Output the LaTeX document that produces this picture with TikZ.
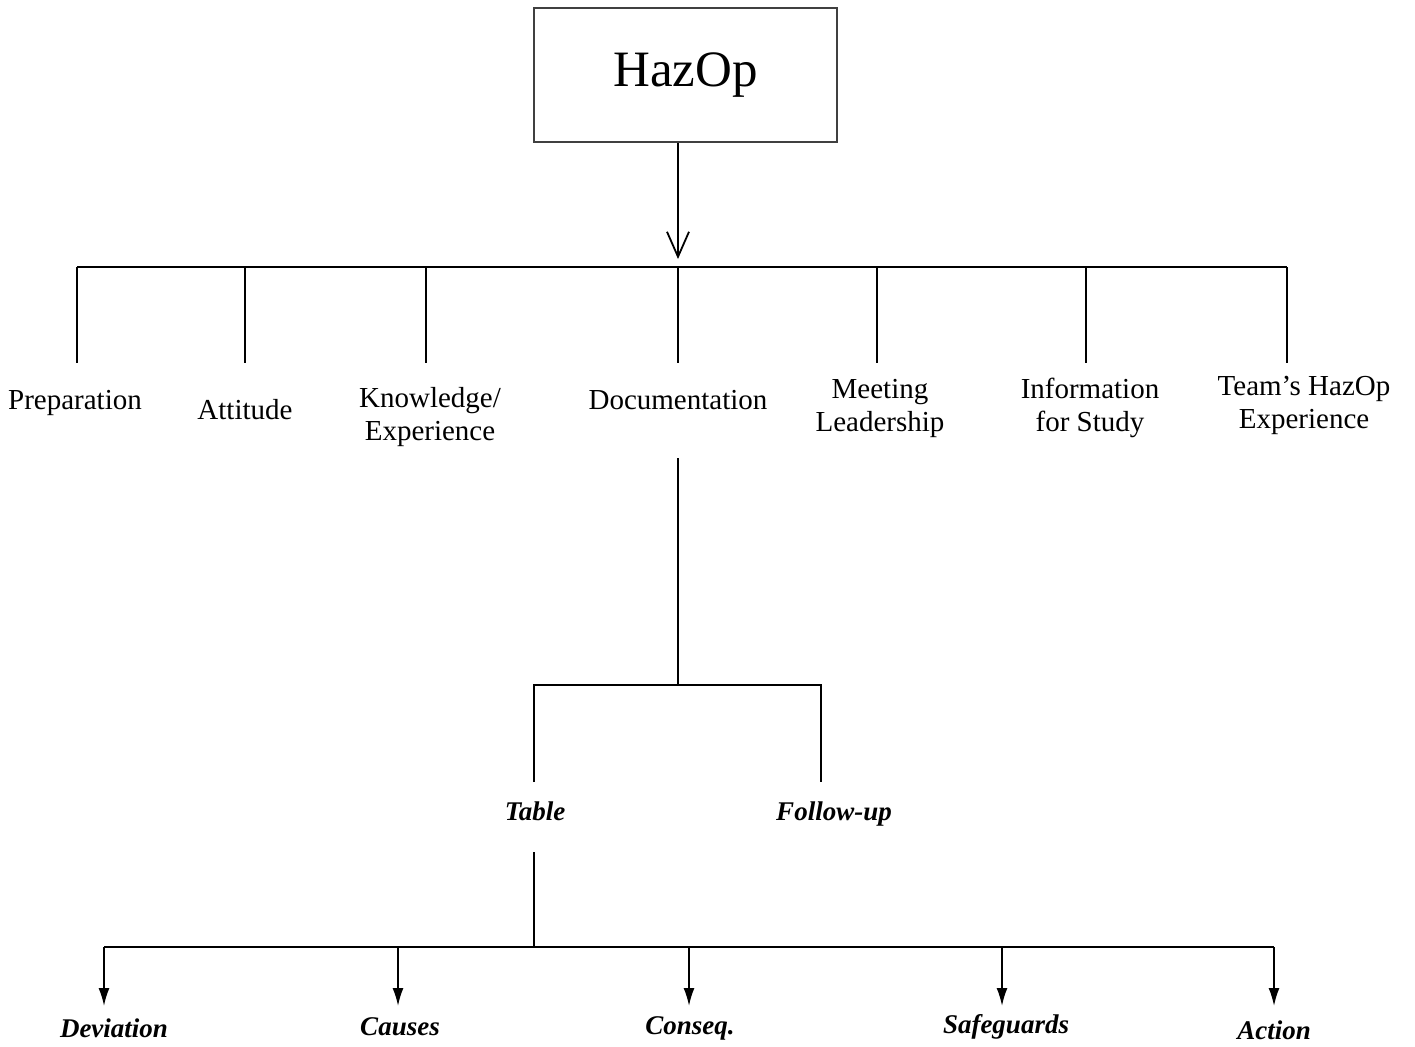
\documentclass[tikz,border=0pt]{standalone}
\usepackage{fontspec}
\setmainfont{Liberation Serif}
\usetikzlibrary{arrows.meta}
\tikzset{
  conn/.style={line width=1.8pt, black},
  lbl/.style={font=\fontsize{29}{33}\selectfont, align=center, inner sep=0pt},
  blbl/.style={font=\fontsize{27}{32}\selectfont\bfseries\itshape, inner sep=0pt},
  topbox/.style={draw=black!75, line width=2.2pt, minimum width=303pt, minimum height=134pt, font=\fontsize{51}{60}\selectfont, inner sep=0pt},
  openarr/.style={-{Straight Barb[length=25pt,width=22pt,line width=1.8pt]}},
  fillarr/.style={-{Latex[length=18pt,width=11pt]}}
}
\begin{document}
\begin{tikzpicture}[x=1pt,y=-1pt]
\useasboundingbox (0,0) rectangle (1415,1046);
% top box
\node[topbox] (hazop) at (685.5,75) {HazOp};
% bus level 1
\coordinate (busL) at (77,267);
\coordinate (busR) at (1287,267);
\coordinate (busM) at (678,267);
\draw[conn, openarr] (hazop.south -| busM) -- (678,259);
\draw[conn] (busL) -- (busR);
% first level labels
\node[lbl] (prep) at (75,403) {Preparation};
\node[lbl] (att) at (245,410) {Attitude};
\node[lbl] (know) at (430,417) {Knowledge/\\Experience};
\node[lbl] (doc) at (678,400) {Documentation};
\node[lbl] (meet) at (880,408) {Meeting\\Leadership};
\node[lbl] (info) at (1090,408) {Information\\for Study};
\node[lbl] (team) at (1304,405) {Team’s HazOp\\Experience};
% verticals
\foreach \x/\n in {77/p1,245/p2,426/p3,678/p4,877/p5,1086/p6,1287/p7}{
  \coordinate (\n t) at (\x,267);
  \coordinate (\n b) at (\x,363);
  \draw[conn] (\n t) -- (\n b);
}
% documentation branch
\coordinate (docb) at (678,458);
\coordinate (docj) at (678,685);
\coordinate (tabT) at (534,685);
\coordinate (folT) at (821,685);
\coordinate (tabB) at (534,782);
\coordinate (folB) at (821,782);
\draw[conn] (docb) -- (docj);
\draw[conn] (tabB) -- (tabT) -- (folT) -- (folB);
\node[blbl] (table) at (535,811) {Table};
\node[blbl] (follow) at (834,814) {Follow-up};
% table branch
\coordinate (tabs) at (534,852);
\coordinate (tabj) at (534,947);
\coordinate (bL) at (104,947);
\coordinate (bR) at (1274,947);
\draw[conn] (tabs) -- (tabj);
\draw[conn] (bL) -- (bR);
\node[blbl] (dev) at (114,1028) {Deviation};
\node[blbl] (cau) at (400,1027) {Causes};
\node[blbl] (con) at (690,1028) {Conseq.};
\node[blbl] (saf) at (1006,1027) {Safeguards};
\node[blbl] (act) at (1274,1030) {Action};
\foreach \x/\n in {104/a1,398/a2,689/a3,1002/a4,1274/a5}{
  \coordinate (\n t) at (\x,947);
  \coordinate (\n b) at (\x,1006);
  \draw[conn, fillarr] (\n t) -- (\n b);
}
\end{tikzpicture}
\end{document}
